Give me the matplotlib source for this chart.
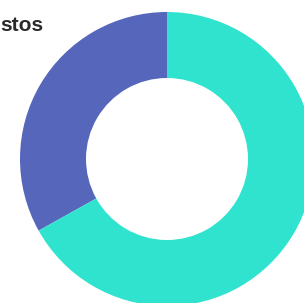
import matplotlib.pyplot as plt

# data
labels = ['Ingresos', 'Gastos']
values = [33.1, 66.9]
colors = ['#5566BB', '#30E3CF']
title = 'stos'

W, H = 304, 303
fig = plt.figure(figsize=(W / 100, H / 100), dpi=100)
ax = fig.add_axes([0, 0, 1, 1])

ax.pie(values, colors=colors, startangle=90, counterclock=True,
       center=(167, H - 159), radius=147,
       wedgeprops=dict(width=66, linewidth=0))

ax.set_xlim(0, W)
ax.set_ylim(0, H)
ax.set_aspect('equal')
ax.axis('off')

fig.text(0.5 / W, 1 - 31 / H, title, ha='left', va='baseline',
         fontsize=15, fontweight='bold', color='#2a2a2a',
         family='Liberation Sans')

fig.savefig('out.png', dpi=100, facecolor='white')
